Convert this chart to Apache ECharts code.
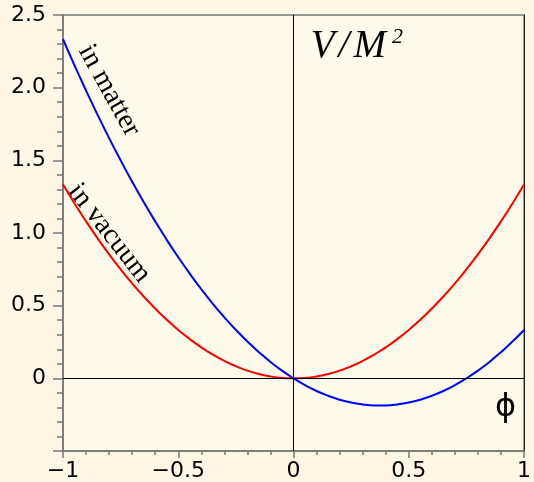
<!DOCTYPE html>
<html><head><meta charset="utf-8">
<script src="https://cdn.jsdelivr.net/npm/echarts@6/dist/echarts.min.js"></script>
<style>html,body{margin:0;padding:0;background:#fdf7e4;}#c{width:534px;height:482px;}</style>
</head><body><div id="c"></div>
<script>
const phi = [-1,-0.95,-0.9,-0.85,-0.8,-0.75,-0.7,-0.65,-0.6,-0.55,-0.5,-0.45,-0.4,-0.35,-0.3,-0.25,-0.2,-0.15,-0.1,-0.05,0,
  0.05,0.1,0.15,0.2,0.25,0.3,0.35,0.375,0.4,0.45,0.5,0.55,0.6,0.65,0.7,0.75,0.8,0.85,0.9,0.95,1];
const vacuum = [1.333,1.203,1.08,0.963,0.853,0.75,0.653,0.563,0.48,0.403,0.333,0.27,0.213,0.163,0.12,0.083,0.053,0.03,0.013,0.003,0,
  0.003,0.013,0.03,0.053,0.083,0.12,0.163,0.188,0.213,0.27,0.333,0.403,0.48,0.563,0.653,0.75,0.853,0.963,1.08,1.203,1.333];
const matter = [2.333,2.153,1.98,1.813,1.653,1.5,1.353,1.213,1.08,0.953,0.833,0.72,0.613,0.513,0.42,0.333,0.253,0.18,0.113,0.053,0,
  -0.047,-0.087,-0.12,-0.147,-0.167,-0.18,-0.187,-0.1875,-0.187,-0.18,-0.167,-0.147,-0.12,-0.087,-0.047,0,0.053,0.113,0.18,0.253,0.333];
const xTicks = {'-1':'\u22121','-0.5':'\u22120.5','0':'0','0.5':'0.5','1':'1'};
const yTicks = {'0':'0','0.5':'0.5','1':'1.0','1.5':'1.5','2':'2.0','2.5':'2.5'};

const chart = echarts.init(document.getElementById('c'));
const lab = {color:'#000', fontFamily:'DejaVu Sans, sans-serif', fontSize:22};
chart.setOption({
  backgroundColor:'#fdf7e4',
  animation:false,
  grid:{left:63,right:6,top:15,bottom:30,show:true,backgroundColor:'#fffbeb',borderColor:'#777',borderWidth:1.5},
  xAxis:[{type:'value',min:-1,max:1,interval:0.5,position:'bottom',
    axisLine:{onZero:false,lineStyle:{color:'#777',width:1.5}},
    axisTick:{length:7,lineStyle:{color:'#777',width:1.5}},
    minorTick:{show:true,splitNumber:5,length:4,lineStyle:{color:'#777',width:1.5}},
    splitLine:{show:false},
    axisLabel:Object.assign({margin:9,formatter:v=>xTicks[String(v)]||''},lab)}],
  yAxis:[{type:'value',min:-0.5,max:2.5,interval:0.5,
    axisLine:{show:true,onZero:false,lineStyle:{color:'#777',width:1.5}},
    axisTick:{show:true,length:10,lineStyle:{color:'#777',width:1.5}},
    minorTick:{show:true,splitNumber:5,length:6,lineStyle:{color:'#777',width:1.5}},
    splitLine:{show:false},
    axisLabel:Object.assign({margin:17,formatter:v=>yTicks[String(v)]||''},lab)},
   {type:'value',min:-0.5,max:2.5,position:'right',
    axisLine:{show:true,onZero:false,lineStyle:{color:'#222',width:1}},
    axisTick:{show:false},axisLabel:{show:false},splitLine:{show:false}}],
  series:[
    {type:'line',name:'in vacuum',data:phi.map((x,i)=>[x,vacuum[i]]),smooth:0.5,showSymbol:false,
     lineStyle:{color:'#ff0000',width:2},z:3,
     markLine:{silent:true,symbol:'none',label:{show:false},lineStyle:{color:'#000',width:1,type:'solid'},
       data:[{xAxis:0},{yAxis:0}]}},
    {type:'line',name:'in matter',data:phi.map((x,i)=>[x,matter[i]]),smooth:0.5,showSymbol:false,
     lineStyle:{color:'#0000ff',width:2},z:4}
  ]
});
function px(x,y){return chart.convertToPixel({xAxisIndex:0,yAxisIndex:0},[x,y]);}
const serif='Liberation Serif, DejaVu Serif, serif';
const pM=px(-0.80,1.98), pV=px(-0.80,1.0), pT=px(0.075,2.42), pP=px(0.92,-0.2);
const it={font:'italic 39px '+serif,fill:'#000',verticalAlign:'bottom'};
chart.setOption({graphic:[
  {type:'text',x:pM[0],y:pM[1],rotation:-61*Math.PI/180,style:{text:'in matter',font:'28px '+serif,fill:'#000',textAlign:'center',textVerticalAlign:'middle'}},
  {type:'text',x:pV[0],y:pV[1],rotation:-52*Math.PI/180,style:{text:'in vacuum',font:'28px '+serif,fill:'#000',textAlign:'center',textVerticalAlign:'middle'}},
  {type:'text',x:pT[0],y:pT[1],style:{text:'{a|V}{s|/}{a|M}{b|2}',rich:{a:it,s:Object.assign({},it,{padding:[0,4,0,4]}),b:{font:'italic 22px '+serif,fill:'#000',verticalAlign:'top',padding:[0,0,18,6]}},textAlign:'left',textVerticalAlign:'top'}},
  {type:'text',x:pP[0],y:pP[1],style:{text:'\u03d5',font:'32px DejaVu Sans, sans-serif',fill:'#000',textAlign:'center',textVerticalAlign:'middle'}}
]});
</script></body></html>
